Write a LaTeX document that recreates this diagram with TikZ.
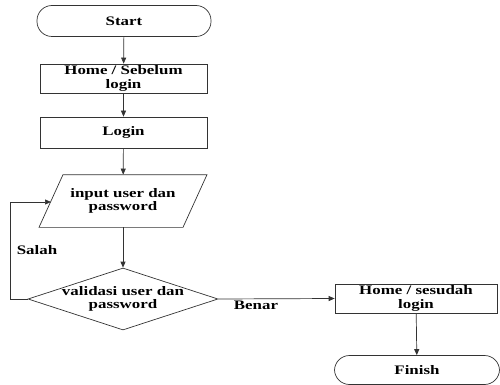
\documentclass[tikz,border=0pt]{standalone}
\usepackage{fontspec}
\setmainfont[FakeStretch=1.3]{Liberation Serif}
\usepackage{tikz}
\usetikzlibrary{shapes.geometric,arrows.meta}

\begin{document}
\begin{tikzpicture}[x=1pt, y=-1pt,
    line width=0.7pt, draw=black!80,
    every node/.style={font=\fontsize{13}{13.5}\selectfont\bfseries, align=center, inner sep=0pt},
    terminal/.style={draw, rectangle, rounded corners=15pt, minimum width=174pt, minimum height=31pt},
    process/.style={draw, rectangle, minimum width=167pt, minimum height=29pt},
    inout/.style={rectangle, minimum width=144pt, minimum height=52pt},
    decision/.style={draw, diamond, minimum width=190pt, minimum height=62pt},
    arr/.style={-{Triangle[length=6pt,width=5pt]}}]

  \useasboundingbox (0,0) rectangle (500,385);

  \node[terminal] (start) at (124,21) {Start};
  \node[process] (home1) at (123.5,78.5) {Home / Sebelum\\login};
  \node[process, minimum height=31pt] (login) at (123.5,132.5) {Login};
  \node[inout] (input) at (123,201) {input user dan\\password};
  \draw ([xshift=-60pt]input.north) -- ([xshift=84pt]input.north)
     -- ([xshift=60pt]input.south) -- ([xshift=-84pt]input.south) -- cycle;
  \coordinate (inleft) at (51,202);
  \node[decision, label={[align=center]center:validasi user dan\\password}] (valid) at (123,299) {};
  \node[process, minimum width=162pt] (home2) at (416,298.5) {Home / sesudah\\login};
  \node[terminal, minimum width=165pt, minimum height=29pt] (finish) at (417,370) {Finish};

  \coordinate (loop) at (10,250);
  \node (salah) at (37,250) {Salah};
  \node (benar) at (256,305) {Benar};

  \draw[arr] (start) -- (home1);
  \draw[arr] (home1) -- (login);
  \draw[arr] (login) -- (input);
  \draw[arr] (input) -- (valid);
  \draw[arr] (valid.west) -- (valid.west -| loop) |- (inleft); %% salah
  \draw[arr] (valid.east) -- (home2.west); %% benar
  \draw[arr] (home2) -- (finish);
\end{tikzpicture}
\end{document}
